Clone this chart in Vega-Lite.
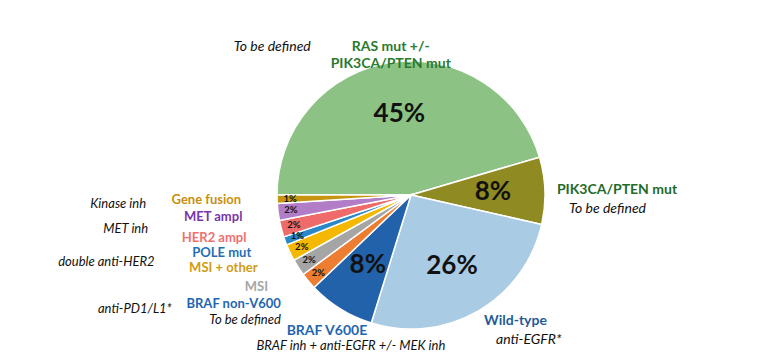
{
  "$schema": "https://vega.github.io/schema/vega-lite/v6.json",
  "autosize": {"type": "fit", "contains": "padding"},
  "width": 782,
  "height": 358,
  "padding": {"left": 40, "right": 0, "top": 0, "bottom": 0},
  "background": "white",
  "view": {"stroke": null},
  "config": {"font": "Lato", "text": {"font": "Lato"}},
  "data": {
    "values": [
      {"idx": 1, "key": "RAS", "label": "RAS mut +/-\nPIK3CA/PTEN mut", "therapy": "To be defined", "pct": 45, "pctText": "45%"},
      {"idx": 2, "key": "PIK", "label": "PIK3CA/PTEN mut", "therapy": "To be defined", "pct": 8, "pctText": "8%"},
      {"idx": 3, "key": "WT", "label": "Wild-type", "therapy": "anti-EGFR*", "pct": 26, "pctText": "26%"},
      {"idx": 4, "key": "V600E", "label": "BRAF V600E", "therapy": "BRAF inh + anti-EGFR +/- MEK inh", "pct": 8, "pctText": "8%"},
      {"idx": 5, "key": "NONV600", "label": "BRAF non-V600", "therapy": "To be defined", "pct": 2, "pctText": "2%"},
      {"idx": 6, "key": "MSI", "label": "MSI", "therapy": "", "pct": 2, "pctText": "2%"},
      {"idx": 7, "key": "MSIO", "label": "MSI + other", "therapy": "anti-PD1/L1*", "pct": 2, "pctText": "2%"},
      {"idx": 8, "key": "POLE", "label": "POLE mut", "therapy": "", "pct": 1, "pctText": "1%"},
      {"idx": 9, "key": "HER2", "label": "HER2 ampl", "therapy": "double anti-HER2", "pct": 2, "pctText": "2%"},
      {"idx": 10, "key": "MET", "label": "MET ampl", "therapy": "MET inh", "pct": 2, "pctText": "2%"},
      {"idx": 11, "key": "GF", "label": "Gene fusion", "therapy": "Kinase inh", "pct": 1, "pctText": "1%"}
    ]
  },
  "encoding": {
    "theta": {"field": "pct", "type": "quantitative", "stack": true, "scale": {"range": [-1.571, 4.712]}},
    "order": {"field": "idx", "type": "quantitative"}
  },
  "layer": [
    {
      "mark": {"type": "arc", "outerRadius": 134, "stroke": "white", "strokeWidth": 1.5},
      "encoding": {
        "fill": {
          "field": "key", "type": "nominal", "legend": null,
          "scale": {
            "domain": ["RAS", "PIK", "WT", "V600E", "NONV600", "MSI", "MSIO", "POLE", "HER2", "MET", "GF"],
            "range": ["#8cc283", "#8f8a22", "#a9cbe4", "#2262ab", "#ed7d31", "#a5a5a5", "#f5b800", "#2a88c8", "#ef6b6a", "#b17dc7", "#c6940f"]
          }
        }
      }
    },
    {
      "mark": {"type": "text", "radius": 82, "fontSize": 26, "fontWeight": "bold", "color": "#111"},
      "encoding": {"text": {"condition": {"test": "datum.pct >= 8", "field": "pctText"}, "value": ""}}
    },
    {
      "mark": {"type": "text", "radius": 121, "fontSize": 9.5, "fontWeight": "bold", "color": "#111"},
      "encoding": {"text": {"condition": {"test": "datum.pct <= 2", "field": "pctText"}, "value": ""}}
    },
    {
      "mark": {"type": "text", "radius": 170, "align": "right", "baseline": "middle", "fontSize": 13, "fontWeight": "bold"},
      "encoding": {
        "text": {"condition": {"test": "indexof(['NONV600','MSI','MSIO','POLE','HER2','MET','GF'], datum.key) >= 0", "field": "label"}, "value": ""},
        "color": {
          "field": "key", "type": "nominal", "legend": null,
          "scale": {
            "domain": ["RAS", "PIK", "WT", "V600E", "NONV600", "MSI", "MSIO", "POLE", "HER2", "MET", "GF"],
            "range": ["#2a7a2e", "#1f6b2a", "#1f5c99", "#1f66b0", "#1f66b0", "#a6a6a6", "#d39b12", "#1f6fb8", "#f07070", "#7a35a8", "#c8900e"]
          }
        }
      }
    },
    {
      "mark": {"type": "text", "radius": 265, "align": "right", "baseline": "middle", "fontSize": 13, "fontStyle": "italic", "color": "#111"},
      "encoding": {"text": {"condition": {"test": "indexof(['MSIO','HER2','MET','GF'], datum.key) >= 0", "field": "therapy"}, "value": ""}}
    },
    {
      "mark": {"type": "text", "radius": 170, "align": "right", "baseline": "middle", "dy": 16, "fontSize": 13, "fontStyle": "italic", "color": "#111"},
      "encoding": {"text": {"condition": {"test": "datum.key == 'NONV600'", "field": "therapy"}, "value": ""}}
    },
    {
      "mark": {"type": "text", "radius": 146, "align": "left", "baseline": "middle", "fontSize": 14, "fontWeight": "bold"},
      "encoding": {
        "text": {"condition": {"test": "indexof(['PIK','WT'], datum.key) >= 0", "field": "label"}, "value": ""},
        "color": {"field": "key", "type": "nominal", "legend": null}
      }
    },
    {
      "mark": {"type": "text", "radius": 146, "align": "left", "baseline": "middle", "dy": 19, "dx": 12, "fontSize": 14, "fontStyle": "italic", "color": "#111"},
      "encoding": {"text": {"condition": {"test": "indexof(['PIK','WT'], datum.key) >= 0", "field": "therapy"}, "value": ""}}
    },
    {
      "mark": {"type": "text", "radius": 142, "align": "center", "baseline": "bottom", "lineBreak": "\n", "lineHeight": 17, "fontSize": 14, "fontWeight": "bold"},
      "encoding": {
        "text": {"condition": {"test": "datum.key == 'RAS'", "field": "label"}, "value": ""},
        "color": {"field": "key", "type": "nominal", "legend": null}
      }
    },
    {
      "mark": {"type": "text", "radius": 142, "align": "right", "baseline": "bottom", "dx": -80, "fontSize": 14, "fontStyle": "italic", "color": "#111"},
      "encoding": {"text": {"condition": {"test": "datum.key == 'RAS'", "field": "therapy"}, "value": ""}}
    },
    {
      "mark": {"type": "text", "radius": 152, "align": "center", "baseline": "top", "dx": -4, "fontSize": 14, "fontWeight": "bold"},
      "encoding": {
        "text": {"condition": {"test": "datum.key == 'V600E'", "field": "label"}, "value": ""},
        "color": {"field": "key", "type": "nominal", "legend": null}
      }
    },
    {
      "mark": {"type": "text", "radius": 152, "align": "center", "baseline": "top", "dx": 20, "dy": 16, "fontSize": 13, "fontStyle": "italic", "color": "#111"},
      "encoding": {"text": {"condition": {"test": "datum.key == 'V600E'", "field": "therapy"}, "value": ""}}
    }
  ]
}
